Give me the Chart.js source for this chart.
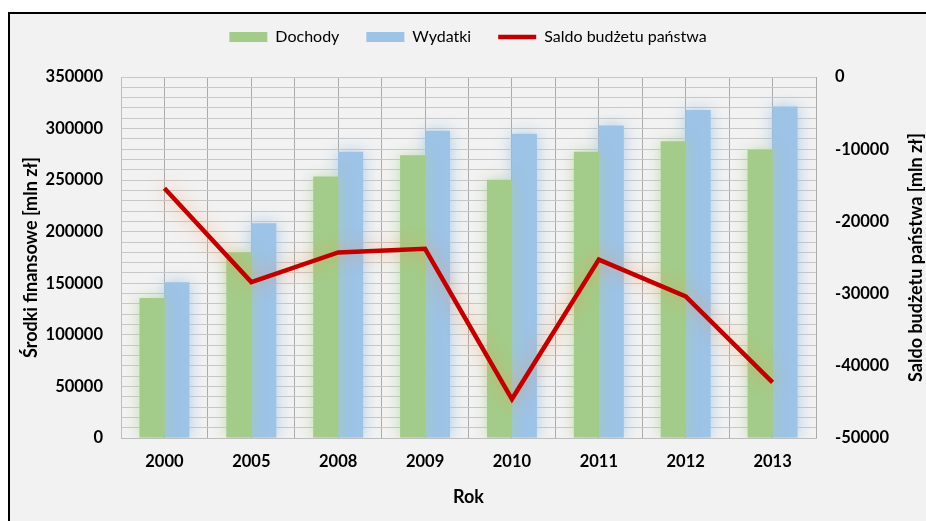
<!doctype html>
<html>
<head>
<meta charset="utf-8">
<title>Budżet państwa</title>
<script src="https://cdn.jsdelivr.net/npm/chart.js"></script>
<style>
    html, body { margin: 0; padding: 0; background: #fff; overflow: hidden; }
    #frame {
        position: absolute;
        left: 8px;
        top: 12px;
        width: 940px;
        height: 540px;
        border-top: 2px solid #000;
        border-left: 2px solid #000;
        background: #f2f2f2;
    }
    canvas { position: absolute; left: 0; top: 0; }
</style>
</head>
<body>
<div id="frame"><canvas id="budget" width="916" height="507"></canvas></div>
<script>
const years = ['2000', '2005', '2008', '2009', '2010', '2011', '2012', '2013'];
const dochody = [135700, 179800, 253500, 274200, 250300, 277600, 287600, 279200];
const wydatki = [151100, 208200, 277600, 298000, 294900, 302900, 318000, 321500];
const saldo = [-15400, -28400, -24300, -23800, -44600, -25300, -30400, -42300];

const tickFont = { family: 'Lato', size: 16.5, weight: 'bold' };
const titleFont = { family: 'Lato', size: 18, weight: 'bold' };

// soft glow under each dataset, like the Excel effect
const glow = {
    id: 'glow',
    beforeDatasetDraw(chart, args) {
        const ds = chart.data.datasets[args.index];
        const ctx = chart.ctx;
        ctx.save();
        ctx.shadowColor = ds.glowColor;
        ctx.shadowBlur = ds.glowBlur;
    },
    afterDatasetDraw(chart) {
        chart.ctx.restore();
    }
};

// right axis title reads bottom-to-top
const rightTitle = {
    id: 'rightTitle',
    afterDraw(chart) {
        const s = chart.scales.y2;
        const ctx = chart.ctx;
        ctx.save();
        ctx.translate(s.right - 10, (s.top + s.bottom) / 2);
        ctx.rotate(-Math.PI / 2);
        ctx.font = 'bold 18px Lato';
        ctx.fillStyle = '#000';
        ctx.textAlign = 'center';
        ctx.textBaseline = 'middle';
        ctx.fillText('Saldo budżetu państwa [mln zł]', 0, 0);
        ctx.restore();
    }
};

new Chart(document.getElementById('budget'), {
    type: 'bar',
    data: {
        labels: years,
        datasets: [
            {
                label: 'Dochody',
                data: dochody,
                backgroundColor: '#a3cc8a',
                borderWidth: 0,
                categoryPercentage: 0.575,
                barPercentage: 1,
                order: 1,
                glowColor: 'rgba(169,209,142,0.7)',
                glowBlur: 14
            },
            {
                label: 'Wydatki',
                data: wydatki,
                backgroundColor: '#9dc3e6',
                borderWidth: 0,
                categoryPercentage: 0.575,
                barPercentage: 1,
                order: 1,
                glowColor: 'rgba(157,195,230,0.85)',
                glowBlur: 16
            },
            {
                type: 'line',
                label: 'Saldo budżetu państwa',
                data: saldo,
                yAxisID: 'y2',
                borderColor: '#c00000',
                backgroundColor: '#c00000',
                borderWidth: 4.5,
                pointRadius: 0,
                tension: 0,
                fill: false,
                order: 0,
                glowColor: 'rgba(255,140,60,0.7)',
                glowBlur: 18
            }
        ]
    },
    options: {
        responsive: false,
        animation: false,
        devicePixelRatio: 1,
        layout: { padding: { top: -12, left: 0, right: 0, bottom: 0 } },
        plugins: {
            tooltip: { enabled: false },
            legend: {
                position: 'top',
                labels: {
                    usePointStyle: true,
                    pointStyleWidth: 38,
                    boxHeight: 10,
                    padding: 27,
                    color: '#000',
                    font: { family: 'Lato', size: 16 },
                    sort: (a, b) => a.datasetIndex - b.datasetIndex,
                    generateLabels(chart) {
                        const items = Chart.defaults.plugins.legend.labels.generateLabels(chart);
                        items.forEach(it => {
                            it.pointStyle = chart.data.datasets[it.datasetIndex].type === 'line' ? 'line' : 'rect';
                        });
                        return items;
                    }
                }
            }
        },
        scales: {
            // empty band between legend and plot
            gap: {
                type: 'category',
                labels: years,
                position: 'top',
                grid: { display: false, drawTicks: false },
                border: { display: false },
                ticks: { display: false },
                afterFit(s) { s.height = 22; }
            },
            x: {
                grid: { color: '#ababab', offset: true, drawTicks: false },
                border: { color: '#bdbdbd' },
                ticks: { font: tickFont, color: '#000', padding: 14 },
                title: {
                    display: true,
                    text: 'Rok',
                    color: '#000',
                    font: titleFont,
                    padding: { top: 0, bottom: 13 }
                },
                afterFit(s) { s.height = 83; }
            },
            x2: {
                type: 'category',
                labels: years,
                position: 'bottom',
                offset: true,
                grid: { color: '#ababab', offset: false, drawTicks: false },
                border: { display: false },
                ticks: { display: false },
                afterFit(s) { s.height = 0; }
            },
            y: {
                min: 0,
                max: 350000,
                ticks: {
                    stepSize: 10000,
                    autoSkip: false,
                    font: tickFont,
                    color: '#000',
                    padding: 18,
                    callback: v => (v % 50000 === 0 ? String(v) : '')
                },
                grid: { color: '#c8c8c8', drawTicks: false },
                border: { color: '#bdbdbd' },
                title: {
                    display: true,
                    text: 'Środki finansowe [mln zł]',
                    color: '#000',
                    font: titleFont,
                    padding: { top: 10, bottom: 0 }
                },
                afterFit(s) { s.width = 111; }
            },
            y2: {
                position: 'right',
                min: -50000,
                max: 0,
                ticks: {
                    stepSize: 10000,
                    font: tickFont,
                    color: '#000',
                    padding: 19,
                    callback: v => String(v)
                },
                grid: { display: false, drawTicks: false },
                border: { display: false },
                afterFit(s) { s.width = 110; }
            }
        }
    },
    plugins: [glow, rightTitle]
});
</script>
</body>
</html>
